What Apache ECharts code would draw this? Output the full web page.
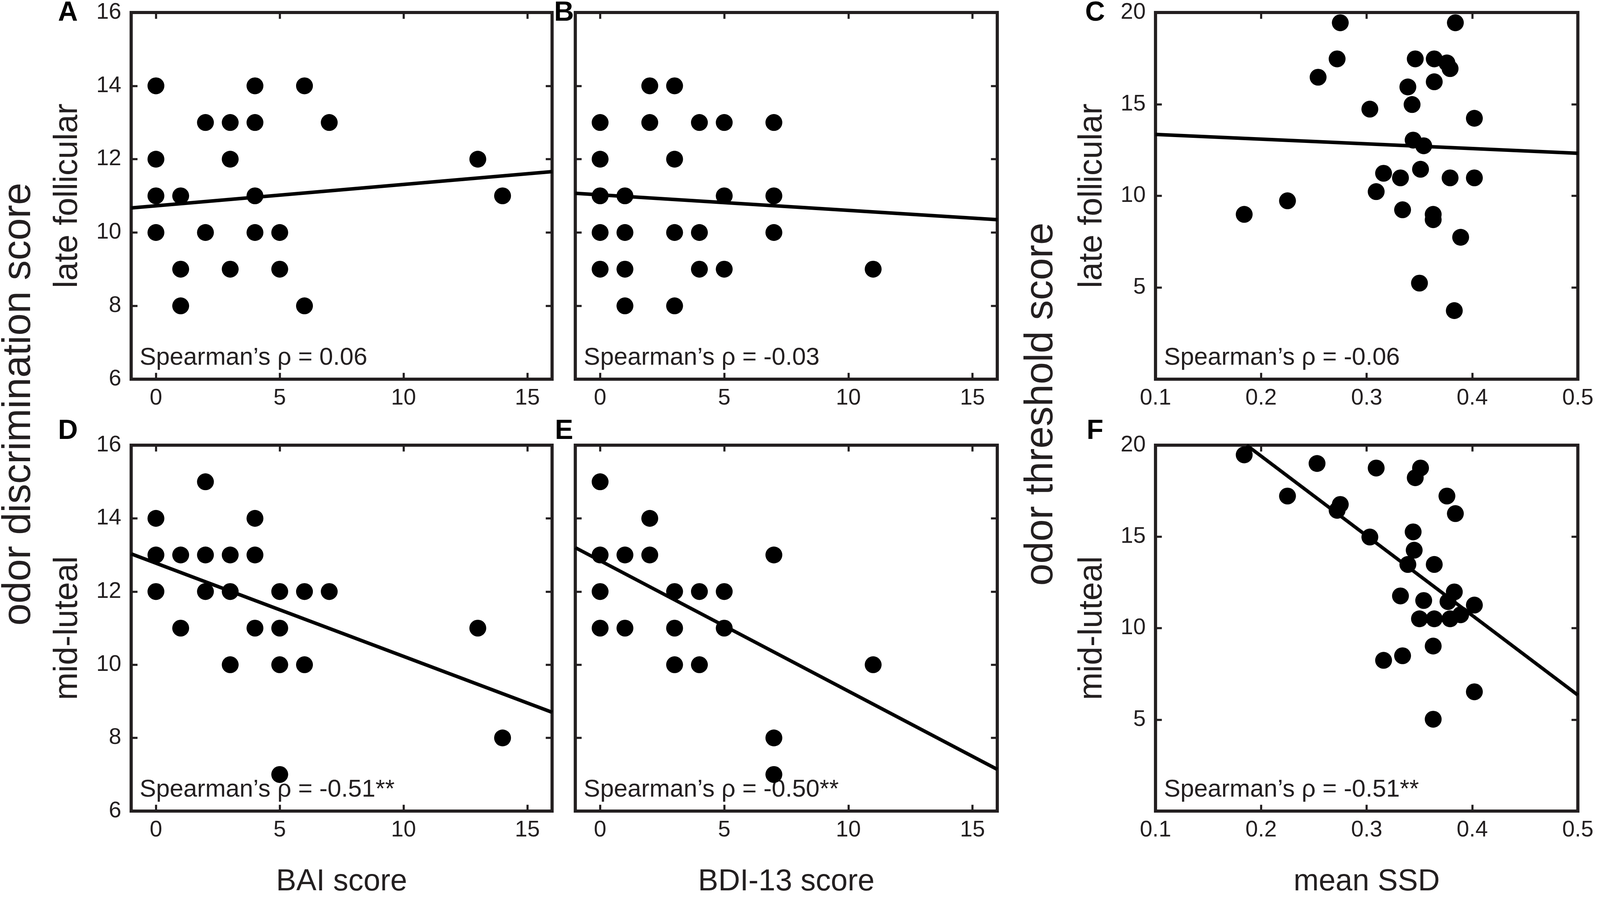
<!DOCTYPE html>
<html>
<head>
<meta charset="utf-8">
<title>odor scores vs BAI / BDI-13 / mean SSD</title>
<script src="https://cdn.jsdelivr.net/npm/echarts@6/dist/echarts.min.js"></script>
<style>
html, body { margin: 0; padding: 0; background: #fff; overflow: hidden; }
#chart { width: 4550px; height: 2297px; }
</style>
</head>
<body>
<div id="chart"></div>
<script>
// ---- data ----
// A: BAI score vs discrimination (late follicular)
var baiLate = [[0,14],[0,12],[0,11],[0,10],[1,11],[1,9],[1,8],[2,13],[2,10],[3,13],[3,12],[3,9],
    [4,14],[4,13],[4,11],[4,10],[5,10],[5,9],[6,14],[6,8],[7,13],[13,12],[14,11]];
// B: BDI-13 score vs discrimination (late follicular)
var bdiLate = [[0,13],[0,12],[0,11],[0,10],[0,9],[1,11],[1,10],[1,9],[1,8],[2,14],[2,13],
    [3,14],[3,12],[3,10],[3,8],[4,13],[4,10],[4,9],[5,13],[5,11],[5,9],[7,13],[7,11],[7,10],[11,9]];
// C: mean SSD vs threshold (late follicular)
var ssdLate = [[0.275,19.44],[0.384,19.44],[0.272,17.47],[0.254,16.47],[0.346,17.47],[0.364,17.47],
    [0.376,17.25],[0.379,16.94],[0.339,15.94],[0.364,16.22],[0.343,14.98],[0.303,14.73],[0.402,14.23],
    [0.344,13.04],[0.354,12.73],[0.351,11.45],[0.316,11.23],[0.332,10.98],[0.379,10.98],[0.402,10.98],
    [0.309,10.23],[0.225,9.73],[0.184,8.99],[0.334,9.24],[0.363,8.99],[0.363,8.70],[0.389,7.74],
    [0.350,5.24],[0.383,3.74]];
// D: BAI score vs discrimination (mid-luteal)
var baiLuteal = [[0,14],[0,13],[0,12],[1,13],[1,11],[2,15],[2,13],[2,12],[3,13],[3,12],[3,10],
    [4,14],[4,13],[4,11],[5,12],[5,11],[5,10],[5,7],[6,12],[6,10],[7,12],[13,11],[14,8]];
// E: BDI-13 score vs discrimination (mid-luteal)
var bdiLuteal = [[0,15],[0,13],[0,12],[0,11],[1,13],[1,11],[2,14],[2,13],[3,12],[3,11],[3,10],
    [4,12],[4,10],[5,12],[5,11],[7,13],[7,8],[7,7],[11,10]];
// F: mean SSD vs threshold (mid-luteal)
var ssdLuteal = [[0.184,19.47],[0.253,19.0],[0.309,18.75],[0.351,18.75],[0.346,18.22],[0.225,17.22],
    [0.376,17.22],[0.275,16.76],[0.272,16.44],[0.384,16.26],[0.303,14.98],[0.344,15.26],[0.345,14.26],
    [0.339,13.48],[0.364,13.48],[0.332,11.76],[0.354,11.51],[0.383,11.98],[0.377,11.45],[0.402,11.26],
    [0.350,10.51],[0.364,10.51],[0.379,10.51],[0.389,10.73],[0.316,8.24],[0.334,8.49],[0.363,9.02],
    [0.402,6.52],[0.363,5.02]];

// regression lines (end points)
var fitA = [[-1,10.67],[16,11.66]];
var fitB = [[-1,11.07],[16,10.35]];
var fitC = [[0.1,13.35],[0.5,12.32]];
var fitD = [[-1,13.03],[16,8.70]];
var fitE = [[-1,13.2],[16,7.14]];
var fitF = [[0.1863,20],[0.5,6.34]];

// ticks
var xTicksScore = [0, 5, 10, 15];
var yTicksDisc = [6, 8, 10, 12, 14, 16];
var xTicksSSD = [0.1, 0.2, 0.3, 0.4, 0.5];
var yTicksThr = [5, 10, 15, 20];

// texts
var panelLetters = ['A', 'B', 'C', 'D', 'E', 'F'];
var spearmanTexts = ['Spearman\u2019s \u03c1 = 0.06', 'Spearman\u2019s \u03c1 = -0.03', 'Spearman\u2019s \u03c1 = -0.06',
    'Spearman\u2019s \u03c1 = -0.51**', 'Spearman\u2019s \u03c1 = -0.50**', 'Spearman\u2019s \u03c1 = -0.51**'];
var rowNames = ['late follicular', 'mid-luteal'];
var xNames = ['BAI score', 'BDI-13 score', 'mean SSD'];
var bigYNames = ['odor discrimination score', 'odor threshold score'];

var scatterSets = [baiLate, bdiLate, ssdLate, baiLuteal, bdiLuteal, ssdLuteal];
var fitSets = [fitA, fitB, fitC, fitD, fitE, fitF];

(function () {
    // figure laid out on a 4550 x 2297 design and stretched to the real viewport
    var W = window.innerWidth || 4550;
    var H = window.innerHeight || 2297;
    var sx = W / 4550, sy = H / 2297;
    var el = document.getElementById('chart');
    el.style.width = W + 'px';
    el.style.height = H + 'px';
    function px(v) { return v * sx; }   // horizontal positions and sizes
    function py(v) { return v * sy; }   // vertical positions, rotated text

    var ink = '#231f20';
    var fam = 'Liberation Sans';
    var colLeft = [373, 1636, 3286];
    var colWidth = [1197, 1200, 1201];
    var rowTop = [32, 1140];
    var rowHeight = [939, 937];
    var letterX = [193, 1604, 3114];
    var letterY = [34, 1105];

    var chart = echarts.init(el);

    //坐标轴: visible axis + mirrored one for inner ticks
    function tickAxis(dim, pos, gridIndex, min, max, ticks, showLabel, hideZero) {
        return {
            type: 'value',
            gridIndex: gridIndex,
            position: pos,
            min: min,
            max: max,
            splitLine: {show: false},
            axisLine: {show: false, onZero: false},
            axisTick: {show: true, inside: true, length: px(18), customValues: ticks,
                lineStyle: {color: ink, width: px(6)}},
            axisLabel: {show: showLabel, customValues: ticks, color: ink, fontFamily: fam,
                fontSize: px(64), margin: dim === 'x' ? py(20) : px(28),
                formatter: function (v) { return hideZero && v === 0 ? '' : String(v); }}
        };
    }

    function textEl(txt, x, y, size, opts) {
        opts = opts || {};
        return {
            type: 'text', x: px(x), y: py(y), rotation: opts.rotate ? Math.PI / 2 : 0, silent: true,
            style: {text: txt, fill: opts.color || ink, fontSize: opts.rotate ? py(size) : px(size),
                fontFamily: fam, fontWeight: opts.bold ? 'bold' : 'normal',
                align: opts.align || 'center', verticalAlign: 'middle'}
        };
    }

    var grids = [], xAxes = [], yAxes = [], series = [], graphics = [];

    for (var i = 0; i < 6; i++) {
        var col = i % 3, row = Math.floor(i / 3);
        var isSSD = col === 2;
        var gLeft = colLeft[col], gTop = rowTop[row], gW = colWidth[col], gH = rowHeight[row];
        grids.push({left: px(gLeft), top: py(gTop), width: px(gW), height: py(gH), show: true,
            borderColor: ink, borderWidth: px(9)});

        var xMin = isSSD ? 0.1 : -1, xMax = isSSD ? 0.5 : 16;
        var yMin = isSSD ? 0 : 6, yMax = isSSD ? 20 : 16;
        var xt = isSSD ? xTicksSSD : xTicksScore;
        var yt = isSSD ? yTicksThr : yTicksDisc;
        // only the outer panels carry y tick labels
        var yLabels = col !== 1;

        xAxes.push(tickAxis('x', 'bottom', i, xMin, xMax, xt, true, false));
        xAxes.push(tickAxis('x', 'top', i, xMin, xMax, xt, false, false));
        yAxes.push(tickAxis('y', 'left', i, yMin, yMax, yt, yLabels, isSSD));
        yAxes.push(tickAxis('y', 'right', i, yMin, yMax, yt, false, isSSD));

        series.push({
            type: 'line', xAxisIndex: 2 * i, yAxisIndex: 2 * i,
            data: fitSets[i], symbol: 'none', z: 2,
            lineStyle: {color: '#000', width: px(10)}
        });
        series.push({
            type: 'scatter', xAxisIndex: 2 * i, yAxisIndex: 2 * i,
            data: scatterSets[i], symbol: 'circle', symbolSize: px(48), z: 3,
            itemStyle: {color: '#000', opacity: 1}
        });

        graphics.push(textEl(spearmanTexts[i], gLeft + 24, gTop + gH - 54, 70, {align: 'left'}));
        graphics.push(textEl(panelLetters[i], letterX[col], letterY[row], 78, {bold: true, color: '#000'}));
    }

    // row labels left of A/D and C/F
    [0, 2].forEach(function (c) {
        rowNames.forEach(function (name, r) {
            graphics.push(textEl(name, colLeft[c] - 180, rowTop[r] + rowHeight[r] / 2, 85, {rotate: true}));
        });
    });
    graphics.push(textEl(bigYNames[0], 54, 1035, 102, {rotate: true}));
    graphics.push(textEl(bigYNames[1], 2961, 1035, 102, {rotate: true}));
    xNames.forEach(function (name, c) {
        graphics.push(textEl(name, colLeft[c] + colWidth[c] / 2, 2259, 86));
    });

    chart.setOption({
        animation: false,
        backgroundColor: '#fff',
        grid: grids,
        xAxis: xAxes,
        yAxis: yAxes,
        series: series,
        graphic: {elements: graphics}
    });
})();
</script>
</body>
</html>
